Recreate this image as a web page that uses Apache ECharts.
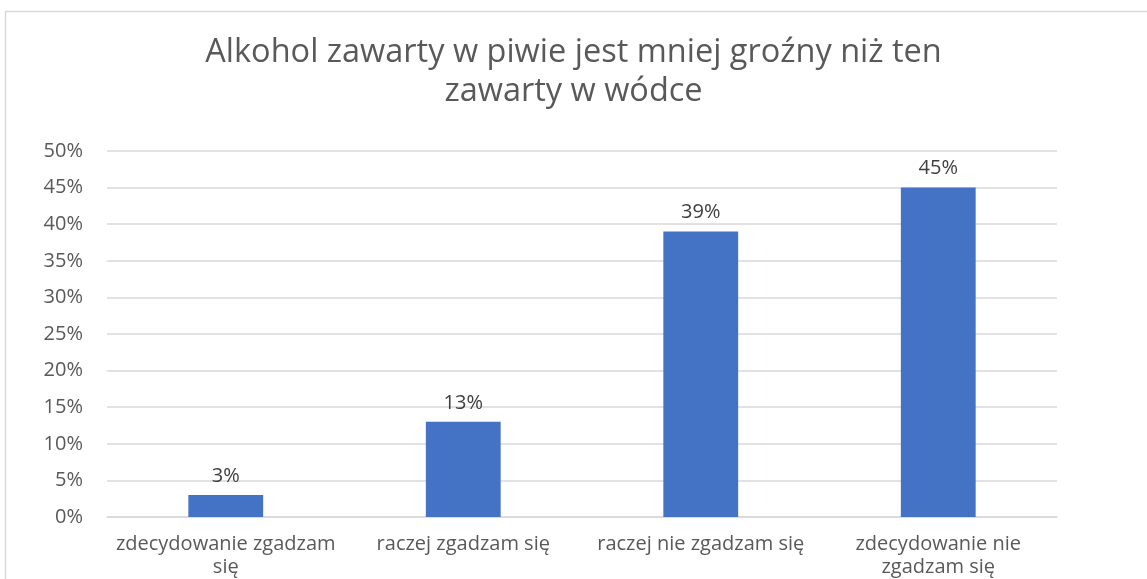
<!DOCTYPE html>
<html><head><meta charset="utf-8">
<script src="https://cdn.jsdelivr.net/npm/echarts@6/dist/echarts.min.js"></script>
<style>html,body{margin:0;padding:0;background:#fff}#c{width:1147px;height:579px}</style>
</head><body><div id="c"></div>
<script>
const titleText = 'Alkohol zawarty w piwie jest mniej groźny niż ten\nzawarty w wódce';
const categories = ['zdecydowanie zgadzam\nsię', 'raczej zgadzam się', 'raczej nie zgadzam się', 'zdecydowanie nie\nzgadzam się'];
const values = [3, 13, 39, 45];
const yTicks = {min: 0, max: 50, interval: 5};
const FONT = 'Open Sans';
const chart = echarts.init(document.getElementById('c'), null, {renderer: 'canvas'});
chart.setOption({
  animation: false,
  textStyle: {fontFamily: FONT},
  graphic: [{type: 'rect', shape: {x: 5.5, y: 11.5, width: 1300, height: 700}, style: {fill: 'none', stroke: '#d9d9d9', lineWidth: 1.5}, silent: true}],
  title: {text: titleText, left: 'center', top: 28, textStyle: {fontFamily: FONT, fontSize: 32.5, fontWeight: 'normal', color: '#595959', lineHeight: 39}},
  grid: {left: 107, right: 90, top: 151, bottom: 56},
  xAxis: {type: 'category', data: categories,
    axisLine: {lineStyle: {color: '#d9d9d9', width: 1.5}}, axisTick: {show: false},
    axisLabel: {color: '#595959', fontSize: 20, margin: 16, lineHeight: 23, interval: 0, fontFamily: FONT}},
  yAxis: {type: 'value', min: yTicks.min, max: yTicks.max, interval: yTicks.interval,
    axisLabel: {formatter: '{value}%', color: '#595959', fontSize: 20, margin: 24, fontFamily: FONT},
    splitLine: {lineStyle: {color: '#d9d9d9', width: 1.5}}, axisLine: {show: false}, axisTick: {show: false}},
  series: [{type: 'bar', data: values, barWidth: '31.5%', itemStyle: {color: '#4472c4'},
    label: {show: true, position: 'top', distance: 9, formatter: '{c}%', color: '#404040', fontSize: 20, fontFamily: FONT}}]
});
</script></body></html>
